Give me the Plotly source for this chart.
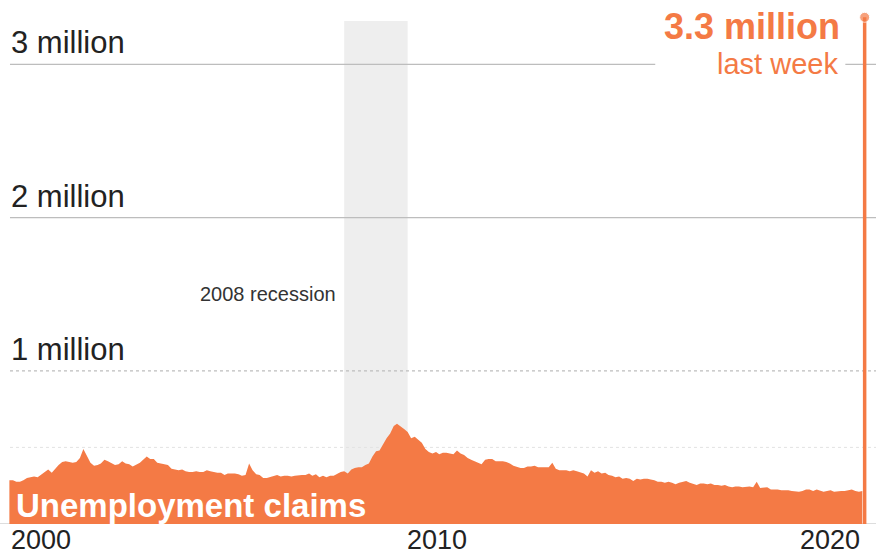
import pandas as pd
import plotly.graph_objects as go

# weekly initial jobless claims, monthly readings, thousands (seasonally adjusted)
claims_2000 = [285, 285, 275, 275, 285, 300, 305, 310, 305, 320, 335, 355]
claims_2001 = [335, 365, 385, 405, 410, 405, 400, 405, 430, 490, 445, 400]
claims_2002 = [380, 385, 395, 420, 410, 395, 385, 390, 410, 395, 390, 375]
claims_2003 = [390, 400, 420, 440, 425, 425, 400, 395, 390, 385, 360, 355]
claims_2004 = [350, 355, 345, 340, 340, 345, 340, 340, 350, 345, 340, 335]
claims_2005 = [335, 320, 330, 330, 330, 325, 315, 320, 395, 350, 325, 320]
claims_2006 = [300, 300, 305, 310, 320, 310, 315, 315, 310, 315, 320, 320]
claims_2007 = [320, 330, 315, 325, 305, 315, 305, 315, 315, 330, 340, 345]
claims_2008 = [330, 355, 365, 370, 370, 385, 395, 440, 475, 480, 520, 560]
claims_2009 = [590, 640, 655, 640, 620, 600, 560, 570, 550, 530, 490, 470]
claims_2010 = [460, 470, 455, 465, 465, 460, 455, 480, 460, 450, 430, 420]
claims_2011 = [410, 400, 390, 420, 425, 425, 410, 410, 410, 405, 395, 380]
claims_2012 = [370, 365, 365, 375, 375, 380, 370, 370, 370, 370, 400, 360]
claims_2013 = [350, 350, 350, 345, 350, 345, 340, 330, 310, 350, 335, 345]
claims_2014 = [330, 335, 320, 315, 305, 310, 295, 300, 295, 280, 295, 290]
claims_2015 = [295, 295, 290, 285, 275, 275, 270, 275, 270, 260, 270, 275]
claims_2016 = [280, 270, 265, 255, 265, 265, 260, 265, 255, 255, 250, 255]
claims_2017 = [245, 240, 245, 245, 240, 245, 245, 240, 275, 235, 240, 240]
claims_2018 = [225, 225, 225, 220, 220, 220, 215, 210, 210, 215, 225, 225]
claims_2019 = [215, 225, 220, 210, 215, 220, 210, 215, 215, 215, 220, 225]
claims_2020 = [215, 210, 215]

last_week_date = "2020-03-21"
last_week_claims = 3307  # thousands

recession = ("2007-12-01", "2009-06-01")
grid_values = [1_000_000, 2_000_000, 3_000_000]
grid_labels = ["1 million", "2 million", "3 million"]
year_ticks = ["2000", "2010", "2020"]

ORANGE = "#F47A45"
FONT = "Liberation Sans, Arial, sans-serif"

claims = (
    claims_2000 + claims_2001 + claims_2002 + claims_2003 + claims_2004
    + claims_2005 + claims_2006 + claims_2007 + claims_2008 + claims_2009
    + claims_2010 + claims_2011 + claims_2012 + claims_2013 + claims_2014
    + claims_2015 + claims_2016 + claims_2017 + claims_2018 + claims_2019
    + claims_2020
)
df = pd.DataFrame({
    "date": pd.date_range("2000-01-01", periods=len(claims), freq="MS"),
    "claims": [c * 1000 for c in claims],
})

fig = go.Figure()

fig.add_trace(go.Scatter(
    x=df["date"], y=df["claims"],
    mode="lines", line=dict(width=0, color=ORANGE),
    fill="tozeroy", fillcolor=ORANGE, hoverinfo="skip",
))

fig.add_trace(go.Scatter(
    x=[last_week_date, last_week_date], y=[0, last_week_claims * 1000],
    mode="lines+markers", line=dict(width=3.5, color=ORANGE),
    marker=dict(size=[0, 10], color=ORANGE), hoverinfo="skip", cliponaxis=False,
))

shapes = [
    dict(type="rect", xref="x", yref="paper", x0=recession[0], x1=recession[1],
         y0=0, y1=0.96, fillcolor="#EEEEEE", line_width=0, layer="below"),
    dict(type="line", xref="paper", yref="y", x0=0.0114, x1=1, y0=500_000, y1=500_000,
         line=dict(color="#E2E2E2", width=1, dash="dot"), layer="below"),
    dict(type="line", xref="paper", yref="y", x0=0, x1=1, y0=0, y1=0,
         line=dict(color="#BBBBBB", width=1), layer="below"),
]
for v in grid_values:
    shapes.append(dict(
        type="line", xref="paper", yref="y", x0=0.0114, x1=1, y0=v, y1=v,
        line=dict(color="#BDBDBD", width=1.2, dash="dot" if v == 1_000_000 else "solid"),
        layer="below",
    ))
# white box behind the "3.3 million" label
shapes.append(dict(type="rect", xref="paper", yref="paper", x0=0.748, x1=0.965,
                   y0=0.83, y1=1, fillcolor="white", line_width=0, layer="below"))

annotations = []
for v, label in zip(grid_values, grid_labels):
    annotations.append(dict(
        x="2000-01-01", y=v, xref="x", yref="y", text=label, showarrow=False,
        xanchor="left", yanchor="bottom", yshift=2,
        font=dict(family=FONT, size=31, color="#222222"),
    ))

anchors = {"2000": ("left", 0), "2010": ("center", 5), "2020": ("right", 7)}
for yr in year_ticks:
    a, sh = anchors[yr]
    annotations.append(dict(
        x=f"{yr}-01-01", y=0, xref="x", yref="y", text=yr, showarrow=False,
        xanchor=a, yanchor="top", xshift=sh, yshift=1,
        font=dict(family=FONT, size=27, color="#222222"),
    ))

annotations += [
    dict(x=recession[0], y=1_500_000, xref="x", yref="y", text="2008 recession",
         showarrow=False, xanchor="right", yanchor="middle", xshift=-6,
         font=dict(family=FONT, size=20, color="#333333")),
    dict(x="2000-01-01", y=0, xref="x", yref="y", text="<b>Unemployment claims</b>",
         showarrow=False, xanchor="left", yanchor="bottom", xshift=5, yshift=-2,
         font=dict(family=FONT, size=33, color="white")),
    dict(x=last_week_date, y=last_week_claims * 1000, xref="x", yref="y",
         text="<b>3.3 million</b>", showarrow=False, xanchor="right", yanchor="middle",
         xshift=-24, yshift=-9, borderpad=0, font=dict(family=FONT, size=36, color=ORANGE)),
    dict(x=last_week_date, y=last_week_claims * 1000, xref="x", yref="y",
         text="last week", showarrow=False, xanchor="right", yanchor="middle",
         xshift=-26, yshift=-47, borderpad=0, font=dict(family=FONT, size=29, color=ORANGE)),
]

fig.update_layout(
    width=876, height=555,
    margin=dict(l=0, r=0, t=0, b=31),
    paper_bgcolor="white", plot_bgcolor="white",
    showlegend=False,
    xaxis=dict(type="date", range=["1999-10-12", "2020-06-27"], visible=False),
    yaxis=dict(range=[0, 3_420_000], visible=False),
    shapes=shapes,
    annotations=annotations,
)

# page body has a default 8px margin; drop it so the chart fills the window
fig.write_html(
    "out.html",
    config={"displayModeBar": False},
    post_script="document.body.style.margin='0';document.body.style.overflow='hidden';",
)
